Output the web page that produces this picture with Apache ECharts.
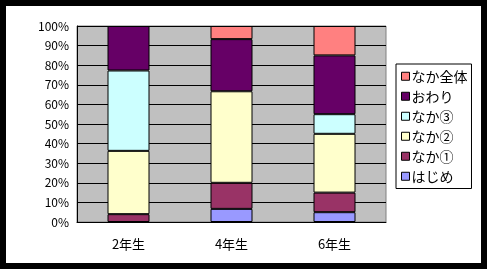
<!DOCTYPE html>
<html><head><meta charset="utf-8">
<script src="https://cdn.jsdelivr.net/npm/echarts@6/dist/echarts.min.js"></script>
<style>
html,body{margin:0;padding:0;background:#000;}
#chart{position:absolute;left:6px;top:6px;width:475px;height:257px;background:#fff;}
</style></head>
<body><div id="chart"></div>
<script>
const categories = ['2年生', '4年生', '6年生'];
const hajime   = [null, 6.7, 5];
const naka1    = [4, 13.3, 10];
const naka2    = [32.3, 46.7, 30];
const naka3    = [41, null, 10];
const owari    = [22.7, 26.6, 30];
const nakaAll  = [null, 6.7, 15];
const seriesNames = ['はじめ', 'なか①', 'なか②', 'なか③', 'おわり', 'なか全体'];
const seriesData = [hajime, naka1, naka2, naka3, owari, nakaAll];
const colors = ['#9999FF', '#993366', '#FFFFCC', '#CCFFFF', '#660066', '#FF8080'];
const legendOrder = ['なか全体', 'おわり', 'なか③', 'なか②', 'なか①', 'はじめ'];
const font = '"Noto Sans CJK JP", sans-serif';

const chart = echarts.init(document.getElementById('chart'));
chart.setOption({
  animation: false,
  textStyle: { fontFamily: font },
  grid: { left: 71, right: 95, top: 20, bottom: 41, show: true, backgroundColor: '#C0C0C0', borderColor: '#808080', borderWidth: 1 },
  legend: {
    data: legendOrder,
    orient: 'vertical',
    left: 390, top: 58,
    width: 81,
    itemWidth: 8, itemHeight: 8, itemGap: 5.5,
    icon: 'rect',
    borderColor: '#000', borderWidth: 1,
    padding: [5, 4, 5, 5],
    textStyle: { fontSize: 14, lineHeight: 14.5, color: '#000', fontFamily: font, padding: [0, 0, 0, -3] },
    itemStyle: { borderColor: '#000', borderWidth: 1 }
  },
  xAxis: {
    type: 'category', data: categories,
    axisLine: { lineStyle: { color: '#000', width: 1 } },
    axisTick: { inside: true, length: 3, lineStyle: { color: '#000' } },
    axisLabel: { color: '#000', fontSize: 13, margin: 16, fontFamily: font }
  },
  yAxis: {
    type: 'value', min: 0, max: 100, interval: 10,
    axisLine: { show: true, lineStyle: { color: '#000' } },
    axisTick: { show: false },
    axisLabel: { color: '#000', fontSize: 12, margin: 8, formatter: '{value}%', fontFamily: font },
    splitLine: { lineStyle: { color: '#000', width: 1 } }
  },
  series: seriesNames.map((n, i) => ({
    name: n, type: 'bar', stack: 'total', barWidth: 42,
    data: seriesData[i],
    itemStyle: { color: colors[i], borderColor: '#000', borderWidth: 1 }
  }))
});
</script></body></html>
